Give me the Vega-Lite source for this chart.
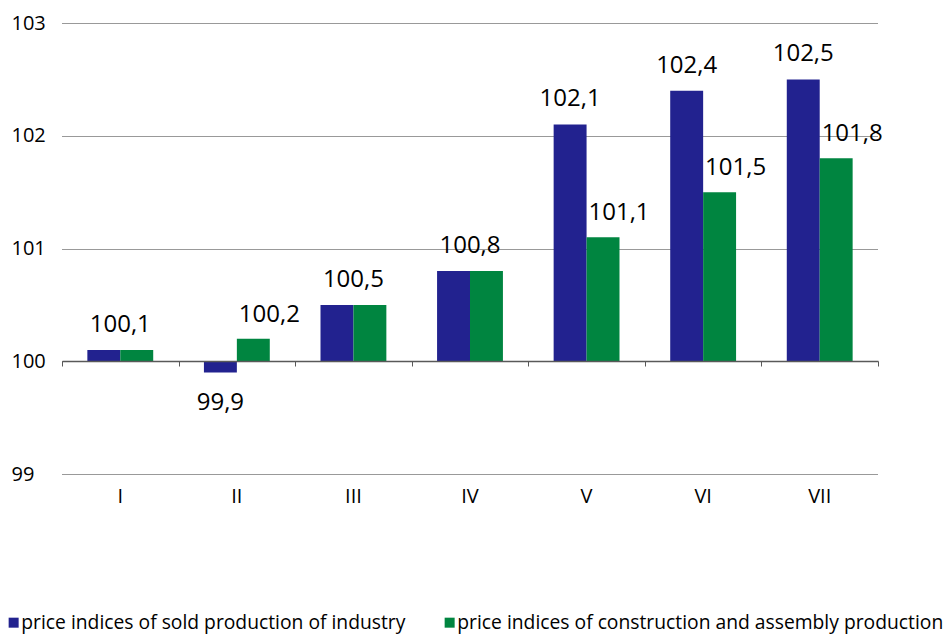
{
  "$schema": "https://vega.github.io/schema/vega-lite/v6.json",
  "width": 816,
  "height": 451,
  "autosize": {"type": "none"},
  "padding": {"left": 62, "top": 23, "right": 67, "bottom": 161},
  "config": {
    "view": {"stroke": null},
    "font": "Open Sans",
    "locale": {"number": {"decimal": ",", "thousands": " ", "grouping": [3], "currency": ["", ""]}}
  },
  "data": {
    "values": [
      {"cat": "I", "series": "price indices of sold production of industry", "value": 100.1},
      {"cat": "I", "series": "price indices of construction and assembly production", "value": 100.1},
      {"cat": "II", "series": "price indices of sold production of industry", "value": 99.9},
      {"cat": "II", "series": "price indices of construction and assembly production", "value": 100.2},
      {"cat": "III", "series": "price indices of sold production of industry", "value": 100.5},
      {"cat": "III", "series": "price indices of construction and assembly production", "value": 100.5},
      {"cat": "IV", "series": "price indices of sold production of industry", "value": 100.8},
      {"cat": "IV", "series": "price indices of construction and assembly production", "value": 100.8},
      {"cat": "V", "series": "price indices of sold production of industry", "value": 102.1},
      {"cat": "V", "series": "price indices of construction and assembly production", "value": 101.1},
      {"cat": "VI", "series": "price indices of sold production of industry", "value": 102.4},
      {"cat": "VI", "series": "price indices of construction and assembly production", "value": 101.5},
      {"cat": "VII", "series": "price indices of sold production of industry", "value": 102.5},
      {"cat": "VII", "series": "price indices of construction and assembly production", "value": 101.8}
    ]
  },
  "encoding": {
    "x": {
      "field": "cat", "type": "nominal",
      "sort": ["I", "II", "III", "IV", "V", "VI", "VII"],
      "scale": {"paddingInner": 0, "paddingOuter": 0},
      "axis": null
    },
    "y": {
      "field": "value", "type": "quantitative",
      "scale": {"domain": [99, 103], "nice": false, "zero": false},
      "axis": {"title": null, "values": [99, 100, 101, 102, 103], "domain": false, "ticks": false, "labelAlign": "left", "labelPadding": 51, "labelFontSize": 20, "labelColor": "#000", "grid": true, "gridColor": "#333333", "gridDash": [1, 1], "gridWidth": 1, "format": "d"}
    }
  },
  "layer": [
    {
      "mark": {"type": "bar"},
      "encoding": {
        "x": {
          "field": "cat", "type": "nominal",
          "sort": ["I", "II", "III", "IV", "V", "VI", "VII"],
          "axis": {"title": null, "orient": "bottom", "domain": false, "ticks": false, "labelAngle": 0, "labelFontSize": 20, "labelColor": "#000", "labelPadding": 12, "grid": false}
        },
        "y2": {"datum": 100},
        "xOffset": {"field": "series", "type": "nominal", "scale": {"domain": ["price indices of sold production of industry", "price indices of construction and assembly production"], "paddingOuter": 0.77, "paddingInner": 0}},
        "color": {
          "field": "series", "type": "nominal",
          "scale": {"domain": ["price indices of sold production of industry", "price indices of construction and assembly production"], "range": ["#22228f", "#008540"]},
          "legend": {"title": null, "orient": "none", "legendX": -58, "legendY": 590, "direction": "horizontal", "symbolType": "square", "symbolSize": 100, "symbolStrokeWidth": 0, "symbolOpacity": 1, "labelFontSize": 19.3, "labelColor": "#000", "labelOffset": -2, "columnPadding": 34, "labelLimit": 600}
        }
      }
    },
    {
      "transform": [
        {"joinaggregate": [{"op": "min", "field": "value", "as": "mn"}, {"op": "max", "field": "value", "as": "mx"}], "groupby": ["cat"]},
        {"filter": "datum.mn == datum.mx && datum.series == 'price indices of sold production of industry'"}
      ],
      "mark": {"type": "text", "fontSize": 24, "color": "#000", "baseline": "middle", "dy": -25},
      "encoding": {
        "x": {"field": "cat", "type": "nominal", "sort": ["I", "II", "III", "IV", "V", "VI", "VII"],
          "axis": {"title": null, "orient": "bottom", "labels": false, "grid": false, "offset": -113, "domain": true, "domainColor": "#595959", "domainWidth": 1.3, "ticks": true, "tickBand": "extent", "tickSize": 5, "tickColor": "#595959", "zindex": 1}},
        "text": {"field": "value", "type": "quantitative", "format": ".1f"}
      }
    },
    {
      "transform": [
        {"joinaggregate": [{"op": "min", "field": "value", "as": "mn"}, {"op": "max", "field": "value", "as": "mx"}], "groupby": ["cat"]},
        {"filter": "datum.mn != datum.mx && datum.series == 'price indices of sold production of industry' && datum.value >= 100"}
      ],
      "mark": {"type": "text", "fontSize": 24, "color": "#000", "baseline": "middle", "dy": -25},
      "encoding": {
        "xOffset": {"field": "series", "type": "nominal"},
        "text": {"field": "value", "type": "quantitative", "format": ".1f"}
      }
    },
    {
      "transform": [
        {"filter": "datum.value < 100"}
      ],
      "mark": {"type": "text", "fontSize": 24, "color": "#000", "baseline": "middle", "dy": 30},
      "encoding": {
        "xOffset": {"field": "series", "type": "nominal"},
        "text": {"field": "value", "type": "quantitative", "format": ".1f"}
      }
    },
    {
      "transform": [
        {"joinaggregate": [{"op": "min", "field": "value", "as": "mn"}, {"op": "max", "field": "value", "as": "mx"}], "groupby": ["cat"]},
        {"filter": "datum.mn != datum.mx && datum.series == 'price indices of construction and assembly production'"}
      ],
      "mark": {"type": "text", "fontSize": 24, "color": "#000", "baseline": "middle", "dy": -24, "dx": 16},
      "encoding": {
        "xOffset": {"field": "series", "type": "nominal"},
        "text": {"field": "value", "type": "quantitative", "format": ".1f"}
      }
    }
  ],
  "resolve": {"axis": {"x": "independent"}}
}
